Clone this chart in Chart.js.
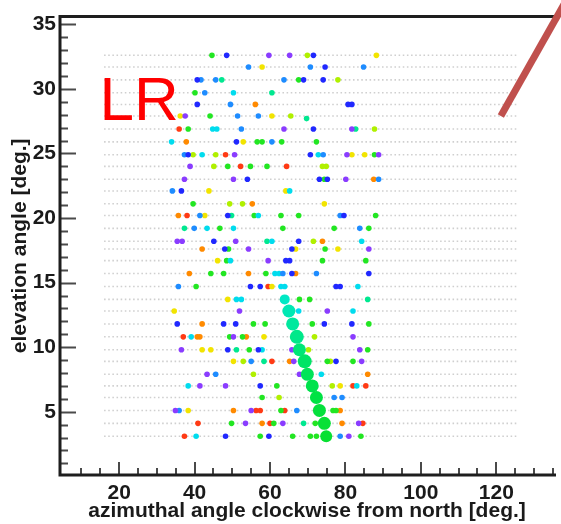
<!DOCTYPE html>
<html>
<head>
<meta charset="utf-8">
<script src="https://cdn.jsdelivr.net/npm/chart.js@4/dist/chart.umd.min.js"></script>
<style>
  html, body { margin: 0; padding: 0; background: #fff; overflow: hidden; }
  #wrap { width: 561px; height: 524px; }
</style>
</head>
<body>
<div id="wrap"><canvas id="c" width="561" height="524"></canvas></div>
<script>
// camera rows (elevation, deg) and pixel columns (azimuth, deg)
const rowElev = [32.6, 31.7, 30.7, 29.7, 28.8, 27.9, 26.9, 25.9, 24.9, 24.0, 23.0, 22.1, 21.1, 20.2, 19.2, 18.2,
  17.6, 16.7, 15.7, 14.7, 13.7, 12.8, 11.8, 10.8, 9.8, 8.9, 7.9, 7.0, 6.1, 5.1, 4.1, 3.1]
const gridAz = [16.2, 17.3, 18.4, 19.5, 20.6, 21.7, 22.8, 23.9, 25.0, 26.1, 27.2, 28.3, 29.4, 30.5, 31.6, 32.7,
  33.8, 34.9, 36.0, 37.1, 38.2, 39.3, 40.4, 41.5, 42.6, 43.7, 44.8, 45.9, 47.0, 48.1, 49.2, 50.3, 51.4, 52.5,
  53.6, 54.7, 55.8, 56.9, 58.0, 59.1, 60.2, 61.3, 62.4, 63.5, 64.6, 65.7, 66.8, 67.9, 69.0, 70.1, 71.2, 72.3,
  73.4, 74.5, 75.6, 76.7, 77.8, 78.9, 80.0, 81.1, 82.2, 83.3, 84.4, 85.5, 86.6, 87.7, 88.8, 89.9, 91.0, 92.1,
  93.2, 94.3, 95.4, 96.5, 97.6, 98.7, 99.8, 100.9, 102.0, 103.1, 104.2, 105.3, 106.4, 107.5, 108.6, 109.7,
  110.8, 111.9, 113.0, 114.1, 115.2, 116.3, 117.4, 118.5, 119.6, 120.7, 121.8, 122.9, 124.0, 125.1]

const xTicks = [20, 40, 60, 80, 100, 120]
const yTicks = [5, 10, 15, 20, 25, 30, 35]

// triggered pixels, grouped by timing colour: [azimuth, elevation]
const purpleHits = [[59.7, 32.6], [65.2, 32.6], [37.5, 27.9], [63.7, 26.9], [81.7, 26.9], [50.6, 24.9], [80.4, 24.9],
  [88.8, 24.9], [38.8, 24.0], [37.3, 23.0], [50.3, 23.0], [80.1, 23.0], [35.4, 18.2], [36.7, 18.2], [50.9, 18.2],
  [54.3, 17.6], [86.2, 17.6], [59.5, 16.7], [51.9, 12.8], [75.2, 12.8], [50.3, 10.8], [82.0, 10.8], [36.5, 9.8],
  [65.8, 9.8], [83.8, 9.8], [66.3, 8.9], [84.3, 8.9], [43.3, 7.9], [67.8, 7.9], [41.4, 7.0], [48.2, 7.0],
  [34.9, 5.1], [55.0, 5.1], [53.5, 4.1], [63.4, 4.1], [83.5, 4.1], [80.9, 3.1]]
const blueHits = [[48.5, 32.6], [71.5, 32.6], [74.6, 31.7], [40.7, 30.7], [68.9, 30.7], [74.1, 30.7], [40.7, 28.8],
  [80.7, 28.8], [81.7, 28.8], [71.5, 26.9], [51.1, 25.9], [38.3, 24.9], [70.7, 24.9], [54.0, 23.0], [73.1, 23.0],
  [75.2, 23.0], [36.5, 22.1], [48.8, 20.2], [79.6, 20.2], [45.1, 18.2], [67.6, 18.2], [48.0, 17.6], [65.8, 17.6],
  [64.2, 16.7], [65.2, 16.7], [65.8, 15.7], [86.2, 15.7], [54.8, 14.7], [57.4, 14.7], [77.5, 14.7], [78.6, 14.7],
  [35.4, 11.8], [47.7, 11.8], [50.9, 11.8], [74.4, 11.8], [81.7, 11.8], [48.8, 9.8], [56.9, 9.8], [77.5, 8.9],
  [57.4, 7.0], [48.2, 3.1], [59.7, 3.1]]
const lightBlueHits = [[54.3, 31.7], [70.7, 31.7], [84.8, 31.7], [41.7, 30.7], [45.6, 30.7], [63.7, 30.7],
  [42.7, 29.7], [49.5, 28.8], [51.4, 27.9], [56.9, 27.9], [52.4, 26.9], [60.5, 25.9], [37.3, 24.9], [74.1, 24.9],
  [88.8, 23.0], [34.1, 22.1], [41.4, 20.2], [78.6, 20.2], [39.9, 19.2], [83.8, 19.2], [63.4, 15.7], [72.3, 15.7],
  [35.7, 14.7], [55.0, 8.9], [45.6, 7.9], [77.0, 6.1], [79.1, 6.1], [35.9, 5.1], [67.1, 5.1], [78.6, 3.1]]
const cyanHits = [[50.3, 29.7], [44.8, 26.9], [45.9, 26.9], [33.9, 25.9], [42.0, 24.9], [72.8, 24.9], [65.2, 22.1],
  [56.9, 20.2], [43.3, 19.2], [50.3, 19.2], [60.5, 18.2], [84.3, 18.2], [49.5, 16.7], [61.3, 15.7], [62.4, 15.7],
  [62.9, 14.7], [63.9, 14.7], [83.3, 14.7], [51.1, 13.7], [52.4, 13.7], [67.6, 12.8], [82.0, 12.8], [39.1, 10.8],
  [57.9, 9.8], [73.6, 7.9], [38.3, 7.0], [83.0, 7.0], [40.4, 3.1]]
const springHits = [[47.2, 30.7], [60.5, 29.7], [69.7, 27.7], [82.7, 26.9], [49.8, 20.2], [37.3, 19.2], [59.2, 18.2],
  [85.9, 13.7], [51.1, 9.8], [58.4, 8.9], [68.9, 4.1]]
const greenHits = [[44.6, 32.6], [67.6, 30.7], [40.1, 29.7], [44.1, 27.9], [38.3, 26.9], [56.6, 25.9], [57.9, 25.9],
  [63.1, 25.9], [72.3, 25.9], [87.7, 24.9], [48.8, 24.0], [54.8, 24.0], [59.2, 24.0], [74.4, 23.0], [39.6, 21.1],
  [55.8, 20.2], [62.9, 20.2], [67.6, 20.2], [88.0, 20.2], [46.7, 19.2], [63.4, 19.2], [77.0, 19.2], [86.2, 19.2],
  [49.0, 17.6], [74.6, 17.6], [48.5, 16.7], [73.9, 16.7], [85.4, 16.7], [44.3, 15.7], [47.7, 15.7], [58.9, 15.7],
  [40.4, 14.7], [67.8, 13.7], [70.5, 13.7], [55.6, 11.8], [58.7, 11.8], [71.2, 11.8], [86.2, 11.8], [49.3, 10.8],
  [52.7, 10.8], [54.5, 9.8], [85.9, 9.8], [75.2, 8.9], [82.0, 8.9], [61.8, 7.0], [57.9, 6.1], [62.9, 5.1],
  [76.7, 5.1], [77.5, 5.1], [49.8, 4.1], [61.0, 4.1], [72.0, 4.1], [57.4, 3.1], [66.0, 3.1], [70.7, 3.1],
  [72.3, 3.1], [84.1, 3.1]]
const yellowGreenHits = [[69.9, 32.6], [78.0, 30.7], [65.5, 27.9], [87.7, 26.9], [39.6, 24.9], [45.6, 24.9],
  [45.1, 24.0], [73.9, 24.0], [74.9, 24.0], [49.3, 21.1], [52.7, 21.1], [71.5, 18.2], [71.8, 10.8], [70.2, 9.8],
  [52.9, 8.9], [76.0, 8.9], [55.6, 7.9], [76.5, 7.0], [62.4, 6.1]]
const yellowHits = [[88.2, 32.6], [57.9, 31.7], [36.2, 27.9], [60.5, 27.9], [52.9, 25.9], [81.7, 24.9], [85.1, 24.9],
  [43.8, 22.1], [64.2, 22.1], [74.4, 21.1], [42.7, 20.2], [66.8, 17.6], [78.0, 17.6], [46.1, 16.7], [60.5, 14.7],
  [48.8, 13.7], [34.6, 12.8], [58.4, 10.8], [42.0, 9.8], [44.3, 9.8], [50.3, 8.9], [78.6, 7.0], [38.3, 5.1]]
const orangeHits = [[56.1, 28.8], [37.8, 25.9], [87.5, 23.0], [55.3, 21.1], [35.7, 20.2], [73.9, 18.2], [42.0, 17.6],
  [38.6, 15.7], [54.3, 15.7], [66.8, 15.7], [42.0, 11.8], [40.7, 10.8], [41.4, 10.8], [53.7, 10.8], [65.2, 8.9],
  [85.9, 7.9], [50.3, 5.1], [78.6, 5.1], [57.9, 4.1], [79.1, 4.1]]
const redHits = [[35.9, 26.9], [48.2, 24.9], [52.2, 24.0], [64.4, 24.0], [38.0, 20.2], [59.5, 14.7], [37.0, 10.8],
  [60.5, 8.9], [82.0, 7.0], [85.4, 7.0], [56.3, 5.1], [57.4, 5.1], [63.9, 5.1], [40.9, 4.1], [60.0, 4.1],
  [84.6, 4.1], [37.3, 3.1]]
// shower track (large signals), top to bottom
const trackHits = [[63.9, 13.7], [65.0, 12.8], [66.0, 11.8], [67.1, 10.8], [67.8, 9.8], [69.2, 8.9], [69.9, 7.9],
  [71.2, 7.0], [72.3, 6.1], [73.1, 5.1], [74.4, 4.1], [74.9, 3.1]]

const FONT = 'Liberation Sans, Arial, Helvetica, sans-serif'
const toPts = arr => arr.map(([x, y]) => ({ x, y }))

const hitSets = [
  ['purple', purpleHits, '#8a3cff'],
  ['blue', blueHits, '#2028ff'],
  ['light blue', lightBlueHits, '#1e8cff'],
  ['cyan', cyanHits, '#00dcee'],
  ['spring', springHits, '#00e890'],
  ['green', greenHits, '#22e622'],
  ['yellow green', yellowGreenHits, '#b0f000'],
  ['yellow', yellowHits, '#f2e400'],
  ['orange', orangeHits, '#ff8a00'],
  ['red', redHits, '#ff3a14'],
]

const gridPts = rowElev.flatMap(el => gridAz.map(az => ({ x: az, y: el })))

const trackColors = ['#00e8c4', '#00e8b4', '#00e89e', '#00e88a', '#00e676', '#00e466', '#00e458',
  '#00e24c', '#00e244', '#04e03c', '#08e036', '#08e032']
const trackRadius = [5, 6.5, 6.5, 7, 6.5, 7, 6.5, 6.5, 6.5, 6.5, 6.5, 6]

const rootFrame = {
  id: 'rootFrame',
  afterDraw(chart) {
    const { ctx, chartArea: a, scales: { x, y } } = chart
    ctx.save()
    // inside tick marks
    ctx.strokeStyle = '#4a4a4a'
    ctx.lineWidth = 2
    ctx.beginPath()
    for (let v = 1; v <= 35; v++) {
      const py = Math.round(y.getPixelForValue(v)) + 0.5
      const len = v % 5 === 0 ? 16 : 8
      ctx.moveTo(a.left, py); ctx.lineTo(a.left + len, py)
    }
    for (let v = 10; v <= 135; v += 5) {
      const px = Math.round(x.getPixelForValue(v))
      const len = v % 20 === 0 ? 13 : 7
      ctx.moveTo(px, a.bottom); ctx.lineTo(px, a.bottom - len)
    }
    ctx.stroke()
    // frame
    ctx.strokeStyle = '#1e1e1e'
    ctx.lineWidth = 3
    ctx.beginPath()
    ctx.moveTo(a.right + 2, a.top); ctx.lineTo(a.left, a.top)
    ctx.lineTo(a.left, a.bottom); ctx.lineTo(a.right + 2, a.bottom)
    ctx.stroke()
    // telescope label
    ctx.fillStyle = '#ff0000'
    ctx.font = `62px ${FONT}`
    ctx.textBaseline = 'alphabetic'
    ctx.fillText('LR', x.getPixelForValue(14.8), y.getPixelForValue(27.6))
    // pointer line
    ctx.strokeStyle = '#c0504d'
    ctx.lineWidth = 7
    ctx.lineCap = 'butt'
    ctx.beginPath()
    ctx.moveTo(x.getPixelForValue(121.2), y.getPixelForValue(27.9))
    ctx.lineTo(x.getPixelForValue(139.6), y.getPixelForValue(37.4))
    ctx.stroke()
    ctx.restore()
  }
}

const tickFont = { family: FONT, weight: 'bold', size: 21 }
const titleFont = { family: FONT, weight: 'bold', size: 21 }

new Chart(document.getElementById('c'), {
  type: 'scatter',
  data: {
    datasets: [
      {
        label: 'track',
        data: toPts(trackHits),
        pointRadius: trackRadius,
        pointBackgroundColor: trackColors,
        pointBorderWidth: 0,
      },
      ...hitSets.map(([label, arr, color]) => ({
        label,
        data: toPts(arr),
        pointRadius: 2.8,
        pointBackgroundColor: color,
        pointBorderWidth: 0,
      })),
      {
        label: 'camera',
        data: gridPts,
        pointStyle: 'rect',
        pointRadius: 1.1,
        pointBackgroundColor: '#cfcfcf',
        pointBorderWidth: 0,
      },
    ],
  },
  options: {
    responsive: false,
    animation: false,
    devicePixelRatio: 1,
    events: [],
    layout: { padding: { top: 12.5, right: 0, bottom: 0, left: 0 } },
    scales: {
      x: {
        type: 'linear',
        min: 4.31,
        max: 135.3,
        afterBuildTicks: s => { s.ticks = xTicks.map(v => ({ value: v })) },
        afterFit: s => { s.height = 49 },
        grid: { display: false, drawTicks: false },
        border: { display: false },
        ticks: { font: tickFont, color: '#1a1a1a', padding: 6, maxRotation: 0, autoSkip: false },
        title: {
          display: true,
          text: 'azimuthal angle clockwise from north [deg.]',
          font: titleFont,
          color: '#1a1a1a',
          padding: { top: 0, bottom: 0 },
        },
      },
      y: {
        type: 'linear',
        min: 0.1,
        max: 35.6,
        afterBuildTicks: s => { s.ticks = yTicks.map(v => ({ value: v })) },
        afterFit: s => { s.width = 60 },
        grid: { display: false, drawTicks: false },
        border: { display: false },
        ticks: { font: tickFont, color: '#1a1a1a', padding: 4, autoSkip: false },
        title: {
          display: true,
          text: 'elevation angle [deg.]',
          font: titleFont,
          color: '#1a1a1a',
          padding: { top: 8, bottom: 0 },
        },
      },
    },
    plugins: { legend: { display: false }, tooltip: { enabled: false } },
  },
  plugins: [rootFrame],
})
</script>
</body>
</html>
